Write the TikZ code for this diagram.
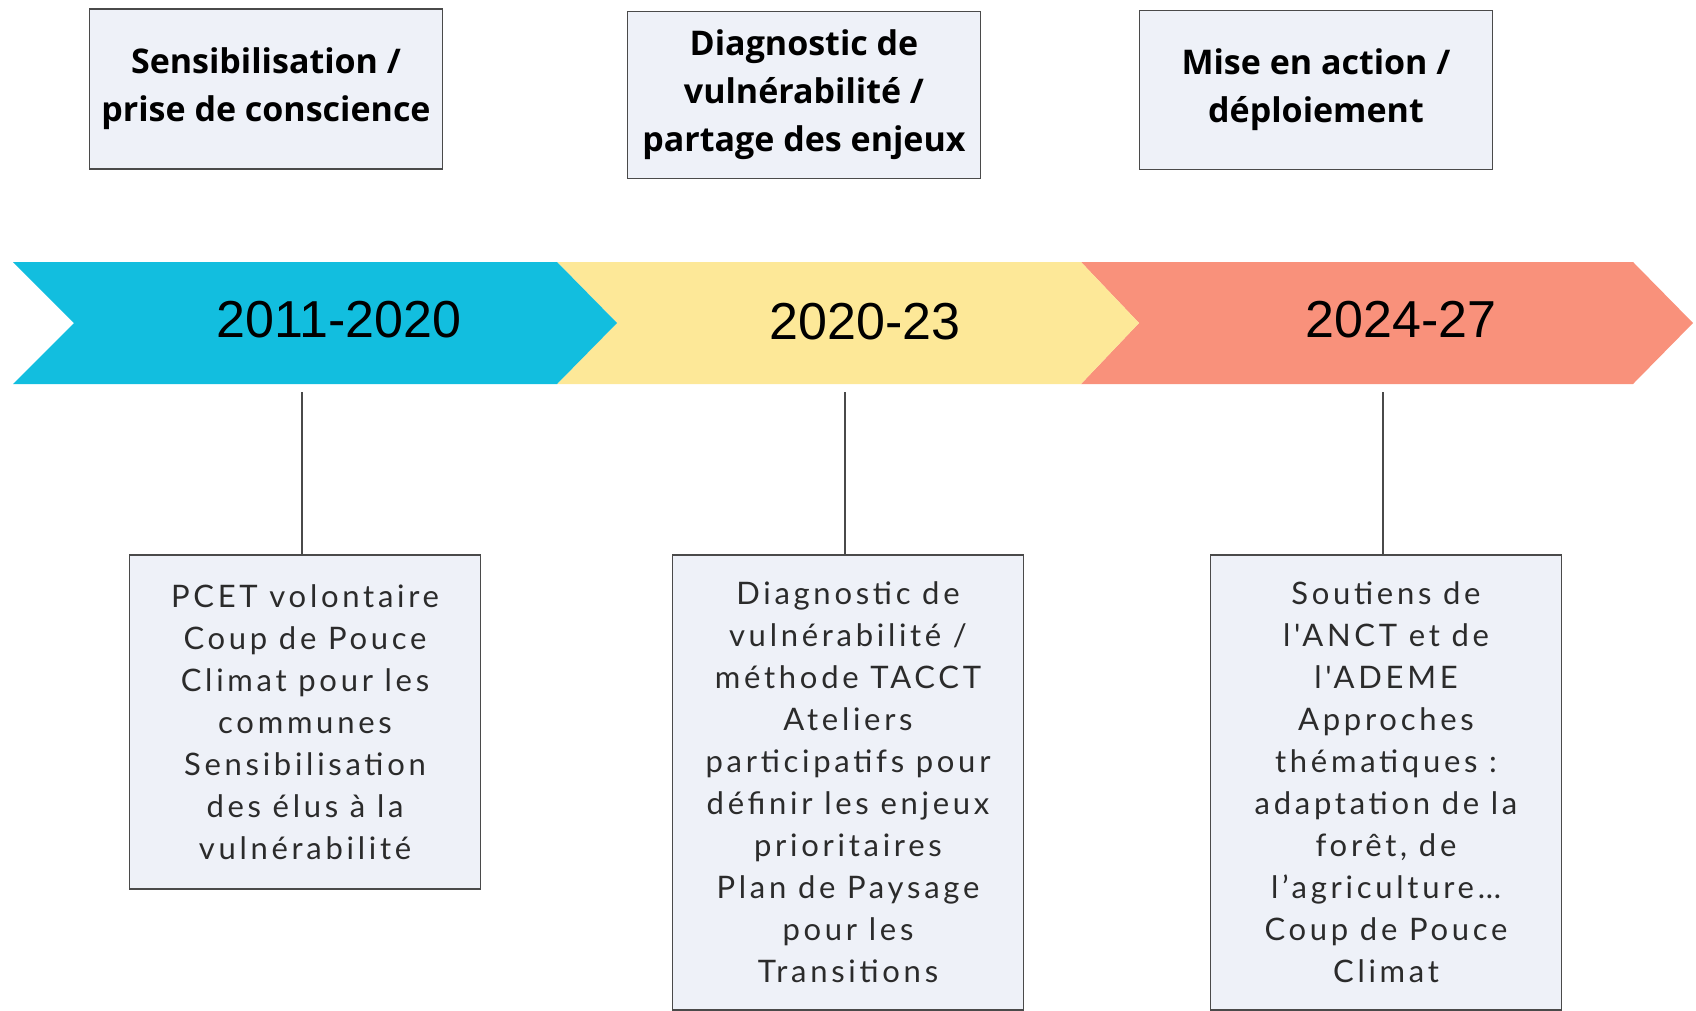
\documentclass[tikz,border=0pt]{standalone}
\usepackage{fontspec}
\setmainfont{Lato}
\newfontfamily\headfont{Open Sans}
\newfontfamily\yearfont{Liberation Sans}
\newfontfamily\bodyfont[LetterSpace=12]{Lato}
\usetikzlibrary{
    positioning,
    calc
}

\definecolor{bandblue}{HTML}{12BEDF}
\definecolor{bandyellow}{HTML}{FDE898}
\definecolor{bandred}{HTML}{F9917B}
\definecolor{boxfill}{HTML}{EEF1F8}
\definecolor{boxline}{HTML}{4A4A4A}
\definecolor{bodytext}{HTML}{2B2B2B}

\begin{document}
\begin{tikzpicture}[
    x=1pt, y=-1pt,
    phase/.style={draw=boxline, line width=1.5pt, fill=boxfill, align=center, minimum width=353pt, inner sep=0pt, font=\headfont\bfseries\fontsize{34}{48}\selectfont},
    detail/.style={draw=boxline, line width=1.5pt, fill=boxfill, align=center, minimum width=351pt, inner sep=0pt, text=bodytext, font=\bodyfont\fontsize{31}{42}\selectfont},
    year/.style={font=\yearfont\fontsize{52}{60}\selectfont},
    tick/.style={draw=boxline, line width=1.5pt}
]
    \useasboundingbox (0,0) rectangle (1696,1011);

    % Timeline band
    \fill[bandred] (1081,262) -- (1633,262) -- (1693,323) -- (1633,384) -- (1081,384) -- (1139,323) -- cycle;
    \fill[bandyellow] (557,262) -- (1081,262) -- (1139,323) -- (1081,384) -- (557,384) -- (617,323) -- cycle;
    \fill[bandblue] (13,262) -- (557,262) -- (617,323) -- (557,384) -- (13,384) -- (74,323) -- cycle;

    % Years
    \node (y1) [year] at (339,320) {2011-2020};
    \node (y2) [year] at (865,322) {2020-23};
    \node (y3) [year] at (1401,320) {2024-27};

    % Phases
    \node (p1) [phase, minimum height=160pt] at (266,89) {Sensibilisation /\\prise de conscience};
    \node (p2) [phase, minimum height=167pt] at (804,95) {Diagnostic de\\vulnérabilité /\\partage des enjeux};
    \node (p3) [phase, minimum height=159pt] at (1316,90) {Mise en action /\\déploiement};

    % Details
    \coordinate (t1) at (302,392);
    \coordinate (t2) at (845,392);
    \coordinate (t3) at (1383,392);
    \node (d1) [detail, minimum height=334pt, below=162pt of t1, xshift=3pt] {PCET volontaire\\Coup de Pouce\\Climat pour les\\communes\\Sensibilisation\\des élus à la\\vulnérabilité};
    \node (d2) [detail, minimum height=455pt, below=162pt of t2, xshift=3pt] {Diagnostic de\\vulnérabilité /\\méthode TACCT\\Ateliers\\participatifs pour\\définir les enjeux\\prioritaires\\Plan de Paysage\\pour les\\Transitions};
    \node (d3) [detail, minimum height=455pt, below=162pt of t3, xshift=3pt] {Soutiens de\\l'ANCT et de\\l'ADEME\\Approches\\thématiques :\\adaptation de la\\forêt, de\\l’agriculture…\\Coup de Pouce\\Climat};

    \draw[tick] (t1) -- (t1 |- d1.north);
    \draw[tick] (t2) -- (t2 |- d2.north);
    \draw[tick] (t3) -- (t3 |- d3.north);

\end{tikzpicture}
\end{document}
